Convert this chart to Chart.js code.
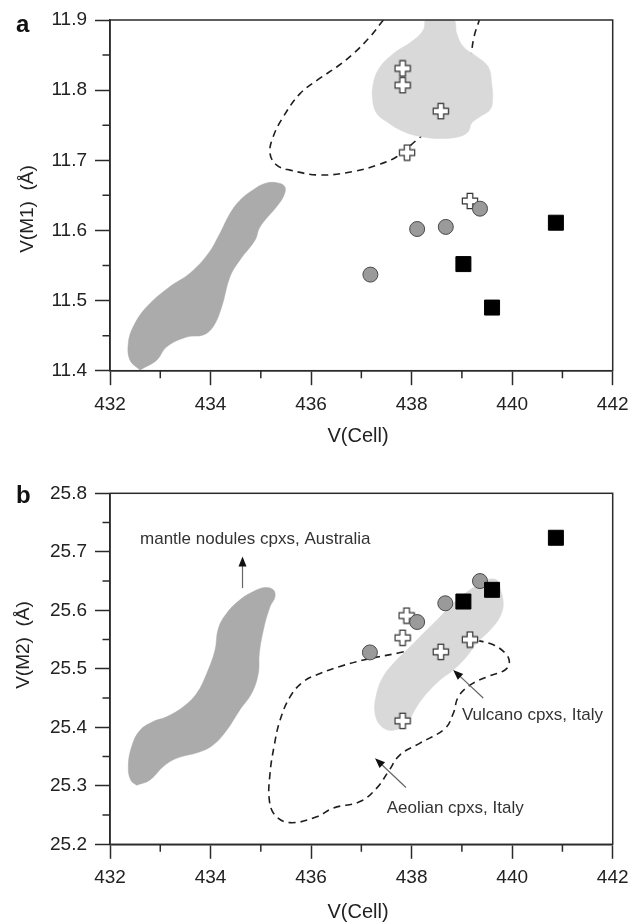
<!DOCTYPE html>
<html><head><meta charset="utf-8">
<script src="https://cdn.jsdelivr.net/npm/chart.js@4.4.0/dist/chart.umd.min.js"></script>
<style>
html,body{margin:0;padding:0;background:#fff;}
#wrap{position:relative;width:639px;height:923px;overflow:hidden;}
#c1{position:absolute;left:0;top:0;}
#c2{position:absolute;left:0;top:460px;}
</style></head>
<body><div id="wrap"><canvas id="c1" width="639" height="460"></canvas><canvas id="c2" width="639" height="463"></canvas></div>
<script>
// ---------- tick labels ----------
const xTicks = [432, 434, 436, 438, 440, 442];
const xMinorTicks = [433, 435, 437, 439, 441];
const yTicksA = [11.4, 11.5, 11.6, 11.7, 11.8, 11.9];
const yMinorA = [11.45, 11.55, 11.65, 11.75, 11.85];
const yTicksB = [25.2, 25.3, 25.4, 25.5, 25.6, 25.7, 25.8];
const yMinorB = [25.25, 25.35, 25.45, 25.55, 25.65, 25.75];

// ---------- panel a: points ----------
const aSquaresX = [440.87, 439.03, 439.60];
const aSquaresY = [11.611, 11.552, 11.490];
const aCirclesX = [439.36, 438.68, 438.11, 437.18];
const aCirclesY = [11.631, 11.605, 11.602, 11.537];
const aCrossesX = [437.82, 437.82, 438.58, 437.91, 439.16];
const aCrossesY = [11.831, 11.807, 11.770, 11.711, 11.642];

// ---------- panel b: points ----------
const bSquaresX = [440.87, 439.60, 439.03];
const bSquaresY = [25.724, 25.635, 25.615];
const bCirclesX = [439.36, 438.67, 438.11, 437.17];
const bCirclesY = [25.650, 25.612, 25.580, 25.528];
const bCrossesX = [437.90, 437.82, 439.16, 438.58, 437.82];
const bCrossesY = [25.591, 25.553, 25.550, 25.529, 25.411];

// ---------- panel a: field outlines (V(Cell), V(M1)) ----------
const aMantle = [[432.597,11.401],[432.929,11.415],[433.127,11.434],[433.525,11.448],[433.857,11.451],[434.055,11.463],[434.222,11.491],[434.387,11.534],[434.586,11.558],[434.884,11.586],[434.984,11.605],[435.316,11.634],[435.447,11.648],[435.481,11.662],[435.316,11.668],[435.083,11.667],[434.851,11.658],[434.586,11.643],[434.387,11.624],[434.188,11.596],[433.955,11.567],[433.591,11.539],[433.194,11.520],[432.730,11.491],[432.464,11.463],[432.364,11.439],[432.398,11.415],[432.597,11.401]];
const aVulcano = [[438.266,11.900],[438.830,11.900],[438.896,11.881],[439.029,11.862],[439.294,11.848],[439.526,11.833],[439.592,11.810],[439.612,11.786],[439.559,11.772],[439.360,11.762],[439.195,11.753],[439.128,11.741],[438.962,11.734],[438.565,11.731],[438.167,11.734],[437.835,11.741],[437.504,11.755],[437.305,11.767],[437.224,11.786],[437.238,11.810],[437.371,11.833],[437.636,11.852],[438.034,11.871],[438.233,11.886],[438.266,11.900]];
const aAeolian = [[437.437,11.900],[437.172,11.876],[436.840,11.852],[436.510,11.833],[436.177,11.817],[435.780,11.795],[435.447,11.762],[435.248,11.734],[435.183,11.710],[435.316,11.693],[435.581,11.686],[436.177,11.679],[436.840,11.684],[437.305,11.693],[437.703,11.705],[438.101,11.729],[438.565,11.757],[438.962,11.795],[439.161,11.843],[439.241,11.876],[439.347,11.900]];

// ---------- panel b: field outlines (V(Cell), V(M2)) ----------
const bMantle = [[432.531,25.301],[432.796,25.310],[433.061,25.333],[433.326,25.347],[433.790,25.358],[434.055,25.370],[434.321,25.395],[434.586,25.430],[434.818,25.458],[434.950,25.492],[434.970,25.526],[435.050,25.566],[435.183,25.606],[435.282,25.623],[435.249,25.635],[435.083,25.639],[434.851,25.632],[434.586,25.618],[434.321,25.595],[434.155,25.569],[434.089,25.532],[433.924,25.492],[433.725,25.458],[433.459,25.435],[433.127,25.418],[432.862,25.410],[432.597,25.395],[432.431,25.367],[432.364,25.333],[432.411,25.310],[432.531,25.301]];
const bVulcano = [[439.758,25.640],[439.824,25.612],[439.758,25.589],[439.559,25.566],[439.294,25.544],[439.096,25.521],[438.830,25.498],[438.565,25.481],[438.300,25.458],[438.101,25.435],[437.902,25.407],[437.636,25.395],[437.405,25.401],[437.271,25.424],[437.305,25.458],[437.437,25.487],[437.636,25.509],[437.902,25.532],[438.167,25.555],[438.499,25.583],[438.830,25.612],[439.161,25.635],[439.492,25.652],[439.691,25.652],[439.758,25.640]];
const bAeolian = [[439.294,25.549],[439.625,25.541],[439.858,25.527],[439.944,25.512],[439.858,25.498],[439.492,25.486],[439.161,25.472],[438.929,25.452],[438.830,25.424],[438.664,25.398],[438.167,25.373],[437.769,25.353],[437.536,25.324],[437.305,25.296],[436.973,25.273],[436.442,25.262],[436.112,25.247],[435.581,25.237],[435.282,25.250],[435.169,25.276],[435.183,25.321],[435.263,25.367],[435.382,25.412],[435.581,25.452],[435.845,25.478],[436.177,25.492],[436.575,25.504],[437.039,25.515],[437.735,25.527],[438.499,25.541],[439.294,25.549]];

// ---------- panel b: annotations (data coordinates) ----------
const bNotes = [
  {text: 'mantle nodules cpxs, Australia', x: 432.597, y: 25.722},
  {text: 'Vulcano cpxs, Italy', x: 439.00, y: 25.421},
  {text: 'Aeolian cpxs, Italy', x: 437.504, y: 25.262}
];
const bArrows = [
  {x1: 434.636, y1: 25.638, x2: 434.636, y2: 25.692},
  {x1: 439.424, y1: 25.450, x2: 438.827, y2: 25.498},
  {x1: 437.888, y1: 25.297, x2: 437.272, y2: 25.347}
];

// ---------- styling ----------
const FONT = '"Liberation Sans", Arial, Helvetica, sans-serif';
const AX = '#2a2a2a';
const DARK_FIELD = '#ababab';
const LIGHT_FIELD = '#d9d9d9';

function makeCross() {
  const c = document.createElement('canvas');
  c.width = 18; c.height = 18;
  const g = c.getContext('2d');
  const m = 9, h = 7.6, t = 2.8;
  g.beginPath();
  g.moveTo(m - t, m - h); g.lineTo(m + t, m - h); g.lineTo(m + t, m - t); g.lineTo(m + h, m - t);
  g.lineTo(m + h, m + t); g.lineTo(m + t, m + t); g.lineTo(m + t, m + h); g.lineTo(m - t, m + h);
  g.lineTo(m - t, m + t); g.lineTo(m - h, m + t); g.lineTo(m - h, m - t); g.lineTo(m - t, m - t);
  g.closePath();
  g.fillStyle = '#ffffff'; g.fill();
  g.strokeStyle = '#333'; g.lineWidth = 1.2; g.stroke();
  return c;
}
const CROSS = makeCross();

const pts = (xs, ys) => xs.map((x, i) => ({x: x, y: ys[i]}));
const poly = arr => arr.map(p => ({x: p[0], y: p[1]}));

function datasets(sq, ci, cr, mantle, vulc, aeol) {
  return [
    {label: 'sq', data: sq, pointStyle: 'rect', pointRadius: 10.6, backgroundColor: '#000', borderColor: '#000', borderWidth: 1, order: 0},
    {label: 'ci', data: ci, pointStyle: 'circle', pointRadius: 7.5, backgroundColor: '#9a9a9a', borderColor: '#4a4a4a', borderWidth: 1, order: 1},
    {label: 'cr', data: cr, pointStyle: CROSS, pointRadius: 9, order: 2},
    {label: 'vulc', data: vulc, showLine: true, fill: 'shape', tension: 0.4, pointRadius: 0, borderWidth: 0.5, borderColor: LIGHT_FIELD, backgroundColor: LIGHT_FIELD, order: 3},
    {label: 'aeol', data: aeol, showLine: true, fill: false, tension: 0.4, pointRadius: 0, borderWidth: 1.6, borderColor: '#1e1e1e', borderDash: [7, 5], order: 4},
    {label: 'mantle', data: mantle, showLine: true, fill: 'shape', tension: 0.4, pointRadius: 0, borderWidth: 0.5, borderColor: DARK_FIELD, backgroundColor: DARK_FIELD, order: 5}
  ];
}

function decorPlugin(cfg) {
  return {
    id: 'decor',
    afterDraw(chart) {
      const {ctx, chartArea: a, scales: {x, y}} = chart;
      ctx.save();
      // frame
      ctx.strokeStyle = AX; ctx.lineWidth = 1.5;
      ctx.strokeRect(a.left, a.top, a.right - a.left, a.bottom - a.top);
      // minor ticks
      ctx.beginPath();
      cfg.xMinor.forEach(v => { const px = x.getPixelForValue(v); ctx.moveTo(px, a.bottom); ctx.lineTo(px, a.bottom + 7.5); });
      cfg.yMinor.forEach(v => { const py = y.getPixelForValue(v); ctx.moveTo(a.left, py); ctx.lineTo(a.left - 7.5, py); });
      ctx.stroke();
      // panel letter
      ctx.fillStyle = '#111';
      ctx.font = 'bold 24px ' + FONT;
      ctx.textAlign = 'left'; ctx.textBaseline = 'alphabetic';
      ctx.fillText(cfg.letter, 16, cfg.letterY);
      // x title
      ctx.font = '20px ' + FONT;
      ctx.fillStyle = '#222';
      ctx.textAlign = 'center'; ctx.textBaseline = 'middle';
      ctx.fillText(cfg.xTitle, cfg.xTitlePos[0], cfg.xTitlePos[1]);
      // y title
      ctx.save();
      ctx.translate(cfg.yTitlePos[0], cfg.yTitlePos[1]);
      ctx.rotate(-Math.PI / 2);
      ctx.font = '19px ' + FONT;
      ctx.fillText(cfg.yTitle, 0, 0);
      ctx.restore();
      // annotations
      ctx.font = '17px ' + FONT;
      ctx.fillStyle = '#333';
      ctx.textAlign = 'left'; ctx.textBaseline = 'middle';
      (cfg.notes || []).forEach(n => ctx.fillText(n.text, x.getPixelForValue(n.x), y.getPixelForValue(n.y)));
      (cfg.arrows || []).forEach(ar => {
        const x1 = x.getPixelForValue(ar.x1), y1 = y.getPixelForValue(ar.y1);
        const x2 = x.getPixelForValue(ar.x2), y2 = y.getPixelForValue(ar.y2);
        const ang = Math.atan2(y2 - y1, x2 - x1);
        const L = 10, W = 4;
        ctx.strokeStyle = '#666'; ctx.lineWidth = 1.2;
        ctx.beginPath(); ctx.moveTo(x1, y1);
        ctx.lineTo(x2 - (L - 2) * Math.cos(ang), y2 - (L - 2) * Math.sin(ang)); ctx.stroke();
        ctx.fillStyle = '#111';
        ctx.beginPath();
        ctx.moveTo(x2, y2);
        ctx.lineTo(x2 - L * Math.cos(ang) + W * Math.sin(ang), y2 - L * Math.sin(ang) - W * Math.cos(ang));
        ctx.lineTo(x2 - L * Math.cos(ang) - W * Math.sin(ang), y2 - L * Math.sin(ang) + W * Math.cos(ang));
        ctx.closePath(); ctx.fill();
        ctx.fillStyle = '#333';
      });
      ctx.restore();
    }
  };
}

function makeChart(canvasId, yMin, yMax, yTicks, padTop, xHeight, data, decor) {
  return new Chart(document.getElementById(canvasId), {
    type: 'scatter',
    data: {datasets: data},
    options: {
      responsive: false, animation: false, devicePixelRatio: 1,
      layout: {padding: {left: 0, right: 26.3, top: padTop, bottom: 0}},
      plugins: {legend: {display: false}, tooltip: {enabled: false}},
      events: [],
      scales: {
        x: {
          type: 'linear', min: 432, max: 442,
          afterBuildTicks: s => { s.ticks = xTicks.map(v => ({value: v})); },
          afterFit: s => { s.height = xHeight; },
          ticks: {font: {family: FONT, size: 19}, color: '#222', padding: 8, maxRotation: 0, autoSkip: false,
                  callback: v => String(v)},
          grid: {drawOnChartArea: false, tickLength: 14.5, tickColor: AX, tickWidth: 1.5},
          border: {color: AX, width: 1.5}
        },
        y: {
          type: 'linear', min: yMin, max: yMax,
          afterBuildTicks: s => { s.ticks = yTicks.map(v => ({value: v})); },
          afterFit: s => { s.width = 110; },
          ticks: {font: {family: FONT, size: 19}, color: '#222', padding: 8, autoSkip: false,
                  callback: v => Number(v).toFixed(1)},
          grid: {drawOnChartArea: false, tickLength: 15, tickColor: AX, tickWidth: 1.5},
          border: {color: AX, width: 1.5}
        }
      }
    },
    plugins: [decorPlugin(decor)]
  });
}

makeChart('c1', 11.4, 11.9, yTicksA, 20, 89.3,
  datasets(pts(aSquaresX, aSquaresY), pts(aCirclesX, aCirclesY), pts(aCrossesX, aCrossesY), poly(aMantle), poly(aVulcano), poly(aAeolian)),
  {xMinor: xMinorTicks, yMinor: yMinorA, letter: 'a', letterY: 32, xTitle: 'V(Cell)', xTitlePos: [358, 436], yTitle: 'V(M1)  (Å)', yTitlePos: [28, 209]});

makeChart('c2', 25.2, 25.8, yTicksB, 33.3, 78.7,
  datasets(pts(bSquaresX, bSquaresY), pts(bCirclesX, bCirclesY), pts(bCrossesX, bCrossesY), poly(bMantle), poly(bVulcano), poly(bAeolian)),
  {xMinor: xMinorTicks, yMinor: yMinorB, letter: 'b', letterY: 43, xTitle: 'V(Cell)', xTitlePos: [358, 452.5], yTitle: 'V(M2)  (Å)', yTitlePos: [24, 185],
   notes: bNotes, arrows: bArrows});
</script>
</body></html>
